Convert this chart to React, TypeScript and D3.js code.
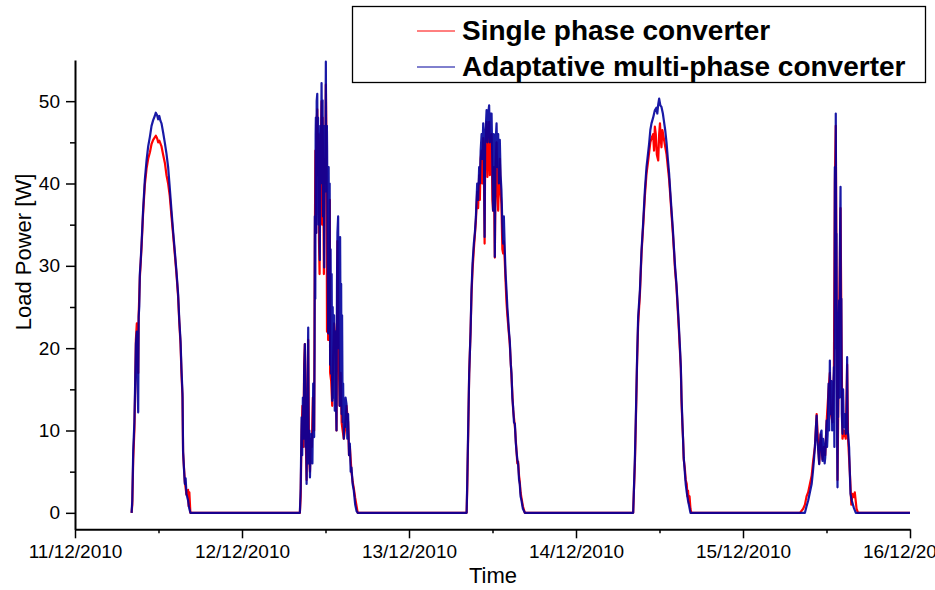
import { useEffect, useRef } from 'react';
import * as d3 from 'd3';

// one entry per day, 11/12/2010 .. 15/12/2010
const days = ['2010-12-11', '2010-12-12', '2010-12-13', '2010-12-14', '2010-12-15'];
const tickLabels = ['11/12/2010', '12/12/2010', '13/12/2010', '14/12/2010', '15/12/2010', '16/12/2010'];
const yTicks = [0, 10, 20, 30, 40, 50];
const yMinorTicks = [5, 15, 25, 35, 45];

// [hour of day, load power W]
const single1 = [[8.13,0],[8.24,1],[8.36,6.5],[8.53,10],[8.65,15],[8.75,21],[8.89,23],[8.98,19],[9.08,17],[9.15,24],[9.32,28.5],[9.56,32.3],[9.79,36.3],[10.04,39.8],[10.28,41.8],[10.51,43],[10.76,43.8],[11.0,44.8],[11.23,45.3],[11.47,45.6],[11.62,45.8],[11.8,45.5],[11.95,45],[12.11,45.2],[12.43,44.5],[12.66,43.5],[12.91,42.5],[13.15,41],[13.38,40],[13.62,38.5],[13.87,36],[14.1,33.8],[14.34,31.5],[14.58,29],[14.81,26.3],[14.98,23.2],[15.16,20.5],[15.3,17],[15.45,14],[15.53,7.3],[15.78,3.8],[16.02,2.2],[16.25,2.8],[16.34,0.8],[16.44,2.5],[16.59,0]];
const single2 = [[8.32,0],[8.44,2],[8.57,10],[8.69,13],[8.81,8],[8.94,18],[9.04,20.5],[9.14,10],[9.28,4],[9.39,14],[9.52,21],[9.64,7],[9.76,5],[9.89,9],[10.04,8],[10.19,14],[10.37,10],[10.47,33],[10.55,44],[10.63,34],[10.7,47],[10.81,49],[10.9,41],[11.0,46],[11.07,33],[11.15,29],[11.22,45],[11.32,44],[11.44,50],[11.51,35],[11.58,48],[11.68,40],[11.77,29],[11.85,43],[11.96,40],[12.05,52],[12.15,44],[12.22,22],[12.31,29],[12.38,21],[12.5,27],[12.62,38],[12.67,17],[12.81,16],[12.96,13],[13.1,19],[13.24,23],[13.41,21],[13.58,10],[13.72,33],[13.89,20],[14.03,13],[14.18,17],[14.32,11],[14.46,10],[14.63,9],[14.78,10],[15.02,13],[15.25,11],[15.38,7],[15.5,8],[15.74,5],[15.9,3.8],[16.07,3],[16.26,1.8],[16.46,0.8],[16.64,0]];
const single3 = [[8.28,0],[8.36,3],[8.51,10],[8.65,17],[8.85,22],[8.99,26.5],[9.14,29.5],[9.32,32],[9.61,35.5],[9.8,39],[9.94,37],[10.09,41],[10.19,38],[10.3,43],[10.43,44],[10.54,40],[10.66,45.5],[10.76,41],[10.86,32.7],[10.95,44],[11.05,45.5],[11.15,47.5],[11.26,40.8],[11.38,45],[11.52,47.5],[11.62,41],[11.74,45],[11.86,46],[11.98,38],[12.09,36.7],[12.19,42],[12.34,31],[12.45,42],[12.58,45],[12.7,39],[12.81,36.7],[12.91,40],[13.05,43],[13.17,39],[13.29,37.5],[13.41,32],[13.53,31.5],[13.63,33],[13.77,30.5],[13.89,28],[14.02,25.5],[14.14,24],[14.24,23],[14.49,20.5],[14.73,16.5],[14.96,12.5],[15.21,10.5],[15.45,7.5],[15.57,6],[15.69,6.2],[15.81,4.5],[15.92,3.8],[16.04,2.5],[16.17,1.8],[16.36,0.8],[16.65,0]];
const single4 = [[8.22,0],[8.32,2.5],[8.46,6],[8.6,11],[8.79,18.5],[8.93,23],[9.18,26.5],[9.42,31.5],[9.65,34.8],[9.9,38.5],[10.14,41.2],[10.33,42.5],[10.51,43.8],[10.68,45],[10.85,45.5],[11.09,46],[11.22,44],[11.33,46.9],[11.47,46],[11.62,43.5],[11.81,42.8],[11.95,46],[12.07,47.3],[12.22,45],[12.29,44.4],[12.42,46.5],[12.62,45.5],[12.81,44.5],[13.01,43.5],[13.2,42],[13.38,40.5],[13.55,38.5],[13.73,36.2],[13.91,34],[14.06,32],[14.24,29.5],[14.44,27.5],[14.63,24.5],[14.77,22.5],[14.92,20],[15.06,17.5],[15.17,13.5],[15.3,10.5],[15.39,9],[15.48,6.5],[15.63,5.5],[15.77,4],[15.91,3.5],[16.02,2],[16.1,2.7],[16.22,1.2],[16.32,2],[16.45,0.5],[16.57,0]];
const single5 = [[8.18,0],[8.65,0.5],[8.9,1],[9.14,2],[9.37,2.5],[9.62,3.5],[9.86,4.5],[10.09,6.3],[10.33,8],[10.58,12],[10.81,8],[10.95,6],[11.15,9.5],[11.44,6.5],[11.63,8],[11.81,7],[12.01,11],[12.3,15],[12.49,17],[12.63,12],[12.87,11],[13.06,17],[13.2,40],[13.34,47],[13.44,30],[13.59,4],[13.82,24],[14.02,37],[14.16,20],[14.3,9],[14.48,10],[14.77,9],[14.97,18],[15.1,9],[15.35,5],[15.56,1],[15.74,2.3],[15.93,1.9],[16.07,2.5],[16.31,0.5],[16.54,0],[24,0]];

const multi1 = [[8.13,0],[8.24,1.5],[8.36,7.5],[8.53,11],[8.65,16],[8.75,20.5],[8.89,22],[8.98,16],[9.08,12.2],[9.15,23.8],[9.23,25],[9.32,29],[9.44,30.5],[9.56,32.7],[9.79,36.7],[10.04,40.4],[10.28,42.8],[10.51,44.5],[10.76,45.7],[11.0,47],[11.23,47.7],[11.47,48.2],[11.62,48.6],[11.8,48.3],[11.95,47.8],[12.11,48.2],[12.28,47.6],[12.43,47.3],[12.66,46.2],[12.91,44.9],[13.15,43.6],[13.38,42],[13.62,39.5],[13.87,36.7],[14.1,34.2],[14.34,31.9],[14.58,29.3],[14.81,26.6],[14.98,23.5],[15.16,20.9],[15.3,17.5],[15.45,14.5],[15.53,7.5],[15.65,5.5],[15.78,3.5],[15.9,4.2],[16.02,2.3],[16.25,1.5],[16.4,0.6],[16.59,0]];
const multi2 = [[8.32,0],[8.44,3],[8.57,11.6],[8.65,7],[8.75,14],[8.85,9],[8.94,17],[9.04,20.5],[9.12,8],[9.18,14],[9.28,3.5],[9.37,12],[9.52,22.5],[9.59,6],[9.68,10],[9.76,4.3],[9.87,8],[10.0,9.6],[10.11,6],[10.23,15.7],[10.37,9.2],[10.43,20],[10.47,36],[10.53,26],[10.58,46],[10.62,48],[10.68,34],[10.73,50],[10.81,50.9],[10.86,38],[10.93,48],[11.01,35],[11.09,44],[11.15,32],[11.19,30.7],[11.27,47],[11.34,40],[11.44,52.2],[11.51,42],[11.58,50.1],[11.65,36],[11.73,47],[11.81,29.8],[11.89,45],[11.96,39],[12.05,54.8],[12.12,40],[12.2,47],[12.24,44],[12.31,30],[12.38,21.8],[12.45,42],[12.53,28],[12.6,40],[12.67,18],[12.74,32],[12.81,16.9],[12.88,29],[12.96,13.6],[13.03,25],[13.1,19.7],[13.17,14],[13.24,24],[13.34,12.4],[13.41,22],[13.48,15],[13.58,10],[13.65,28],[13.72,34],[13.82,36],[13.89,20],[13.96,33],[14.03,13],[14.1,33.5],[14.18,18],[14.25,27.8],[14.32,12],[14.39,24],[14.46,11],[14.53,15.7],[14.63,9],[14.7,13],[14.78,10.4],[14.89,14],[15.02,13.2],[15.13,9],[15.25,12],[15.38,7],[15.5,8.4],[15.61,5],[15.74,5.5],[15.9,3.5],[16.07,2.7],[16.26,1],[16.46,0.2],[16.64,0]];
const multi3 = [[8.28,0],[8.36,3.5],[8.51,10.8],[8.65,16.9],[8.85,22.1],[8.99,27],[9.14,30.3],[9.32,32.7],[9.47,34],[9.61,36],[9.8,40],[9.94,38],[10.09,42],[10.19,40],[10.3,44],[10.43,46],[10.54,43],[10.66,47.3],[10.76,44],[10.86,33.5],[10.95,46],[11.05,47],[11.15,48.9],[11.26,45],[11.38,48.5],[11.52,49.5],[11.62,45],[11.74,48.5],[11.86,48.5],[11.98,42],[12.09,36.7],[12.19,46],[12.28,44],[12.34,31.1],[12.45,45],[12.58,47.3],[12.7,42],[12.81,46],[12.91,40],[13.05,45.3],[13.17,41],[13.29,39.2],[13.41,35],[13.53,32.7],[13.63,36],[13.77,31.9],[13.89,29],[14.02,27],[14.14,25],[14.24,23.8],[14.37,22],[14.49,20.9],[14.63,18],[14.73,16.9],[14.85,14],[14.96,12.8],[15.09,11],[15.21,10.8],[15.35,8.5],[15.45,7.5],[15.57,6.5],[15.69,5.9],[15.81,4],[15.92,3.5],[16.04,2],[16.17,1.5],[16.36,0.5],[16.65,0]];
const multi4 = [[8.22,0],[8.32,2.7],[8.46,6.7],[8.6,11.6],[8.79,18.9],[8.93,23.8],[9.06,25.5],[9.18,27],[9.42,31.9],[9.65,35.2],[9.9,39.2],[10.14,42],[10.33,43.5],[10.51,44.9],[10.68,46.5],[10.85,47.3],[11.09,48],[11.33,48.9],[11.55,49.2],[11.69,48.5],[11.81,49.6],[11.95,50.3],[12.12,49.5],[12.29,49.3],[12.48,48.5],[12.62,47.7],[12.81,46.5],[13.01,44.9],[13.2,43],[13.38,41.2],[13.55,39],[13.73,36.7],[13.91,34.5],[14.06,32.3],[14.24,30],[14.44,27.8],[14.63,25],[14.77,23],[14.92,20.5],[15.06,17.7],[15.17,14],[15.3,10.8],[15.39,9],[15.48,6.7],[15.63,5],[15.77,3.5],[15.91,2.5],[16.1,1.5],[16.27,0.8],[16.45,0]];
const multi5 = [[8.9,0],[9.14,0.8],[9.37,1.5],[9.62,2.5],[9.86,3.5],[10.05,5],[10.19,6.3],[10.33,8],[10.48,10.4],[10.58,11.8],[10.69,9],[10.81,7.5],[10.95,5.9],[11.05,8],[11.15,9.6],[11.29,10],[11.37,7],[11.44,6.3],[11.52,9],[11.63,7.9],[11.73,6],[11.81,6.7],[11.91,9],[12.01,11.2],[12.08,8],[12.16,9.6],[12.23,13],[12.3,15.7],[12.39,10],[12.49,18.5],[12.56,12],[12.63,12.8],[12.7,16],[12.77,14.5],[12.81,10],[12.87,11.6],[12.96,15],[13.06,17.7],[13.13,8],[13.2,42],[13.26,20],[13.34,48.5],[13.4,30],[13.44,33.9],[13.52,10],[13.59,3.1],[13.63,14],[13.67,11.6],[13.74,22],[13.82,25.8],[13.89,14],[13.94,33],[14.02,39.6],[14.09,18],[14.14,26],[14.2,12],[14.3,9.6],[14.38,15],[14.48,10.4],[14.62,12],[14.77,9.6],[14.88,12],[14.97,18.9],[15.04,10],[15.1,9.6],[15.25,7.9],[15.35,5],[15.45,2.3],[15.64,1.5],[15.93,0.6],[16.21,0],[24,0]];

const singleDays = [single1, single2, single3, single4, single5];
const multiDays = [multi1, multi2, multi3, multi4, multi5];

const RED = '#ff0000';
const BLUE = '#00009c';
const FONT = '"Liberation Sans", Arial, sans-serif';

type Pt = { t: Date; v: number };

function toSeries(byDay: number[][][]): Pt[] {
  const out: Pt[] = [];
  byDay.forEach((pts, i) => {
    const base = d3.timeParse('%Y-%m-%d')(days[i])!;
    pts.forEach(([h, v]) => out.push({ t: d3.timeMinute.offset(base, Math.round(h * 60)), v }));
  });
  return out;
}

export default function App() {
  const svgRef = useRef<SVGSVGElement>(null);

  useEffect(() => {
    if (!svgRef.current) return;
    const svg = d3.select(svgRef.current);
    svg.selectAll('*').remove();

    const parse = d3.timeParse('%Y-%m-%d');
    const start = parse(days[0])!;
    const end = d3.timeDay.offset(parse(days[days.length - 1])!, 1);

    const x = d3.scaleTime().domain([start, end]).range([75, 910]);
    const y = d3.scaleLinear().domain([-2, 55]).range([529.3, 60]);

    const dayTicks = d3.timeDay.range(start, d3.timeDay.offset(end, 1));
    const noonTicks = dayTicks.slice(0, -1).map(d => d3.timeHour.offset(d, 12));

    // lines: single phase underneath, multi-phase on top
    const line = d3.line<Pt>().x(d => x(d.t)).y(d => y(d.v));

    svg.append('path')
      .datum(toSeries(singleDays))
      .attr('d', line)
      .attr('fill', 'none')
      .attr('stroke', RED)
      .attr('stroke-width', 2.2)
      .attr('stroke-linejoin', 'round');

    svg.append('path')
      .datum(toSeries(multiDays))
      .attr('d', line)
      .attr('fill', 'none')
      .attr('stroke', BLUE)
      .attr('stroke-opacity', 0.9)
      .attr('stroke-width', 2.2)
      .attr('stroke-linejoin', 'round');

    // x axis
    const xAxis = svg.append('g')
      .attr('transform', `translate(0,${y(-2)})`)
      .call(d3.axisBottom(x)
        .tickValues(dayTicks)
        .tickFormat((_d, i) => tickLabels[i])
        .tickSize(9)
        .tickSizeOuter(0)
        .tickPadding(6));
    xAxis.select('.domain').attr('stroke-width', 2);
    xAxis.selectAll('.tick line').attr('stroke-width', 1.5);
    xAxis.selectAll('text').attr('font-size', 19).attr('font-family', FONT).attr('fill', '#000');

    svg.append('g')
      .attr('transform', `translate(0,${y(-2)})`)
      .call(d3.axisBottom(x).tickValues(noonTicks).tickFormat(() => '').tickSize(4))
      .call(g => g.select('.domain').remove())
      .selectAll('.tick line').attr('stroke-width', 1.5);

    // y axis
    const yAxis = svg.append('g')
      .attr('transform', `translate(${x(start)},0)`)
      .call(d3.axisLeft(y)
        .tickValues(yTicks)
        .tickSize(9)
        .tickSizeOuter(0)
        .tickPadding(6));
    yAxis.select('.domain').attr('stroke-width', 2);
    yAxis.selectAll('.tick line').attr('stroke-width', 1.5);
    yAxis.selectAll('text').attr('font-size', 19).attr('font-family', FONT).attr('fill', '#000');

    svg.append('g')
      .attr('transform', `translate(${x(start)},0)`)
      .call(d3.axisLeft(y).tickValues(yMinorTicks).tickFormat(() => '').tickSize(5))
      .call(g => g.select('.domain').remove())
      .selectAll('.tick line').attr('stroke-width', 1.5);

    // axis titles
    svg.append('text')
      .attr('transform', 'translate(31,252) rotate(-90)')
      .attr('text-anchor', 'middle')
      .attr('font-size', 22)
      .attr('font-family', FONT)
      .text('Load Power [W]');

    svg.append('text')
      .attr('x', 493)
      .attr('y', 583)
      .attr('text-anchor', 'middle')
      .attr('font-size', 22)
      .attr('font-family', FONT)
      .text('Time');

    // legend
    const legend = svg.append('g');
    legend.append('rect')
      .attr('x', 352.5).attr('y', 6.5)
      .attr('width', 573).attr('height', 76)
      .attr('fill', '#fff')
      .attr('stroke', '#000')
      .attr('stroke-width', 1.3);

    const items = [
      { label: 'Single phase converter', color: RED },
      { label: 'Adaptative multi-phase converter', color: BLUE },
    ];
    items.forEach((it, i) => {
      const cy = 31 + i * 36;
      legend.append('line')
        .attr('x1', 417).attr('x2', 455)
        .attr('y1', cy).attr('y2', cy)
        .attr('stroke', it.color)
        .attr('stroke-width', 1);
      legend.append('text')
        .attr('x', 462)
        .attr('y', cy + 9)
        .attr('font-size', 28)
        .attr('font-weight', 'bold')
        .attr('font-family', FONT)
        .text(it.label);
    });
  }, []);

  return (
    <svg
      ref={svgRef}
      width={935}
      height={590}
      style={{ position: 'absolute', left: 0, top: 0, background: '#fff' }}
    />
  );
}
